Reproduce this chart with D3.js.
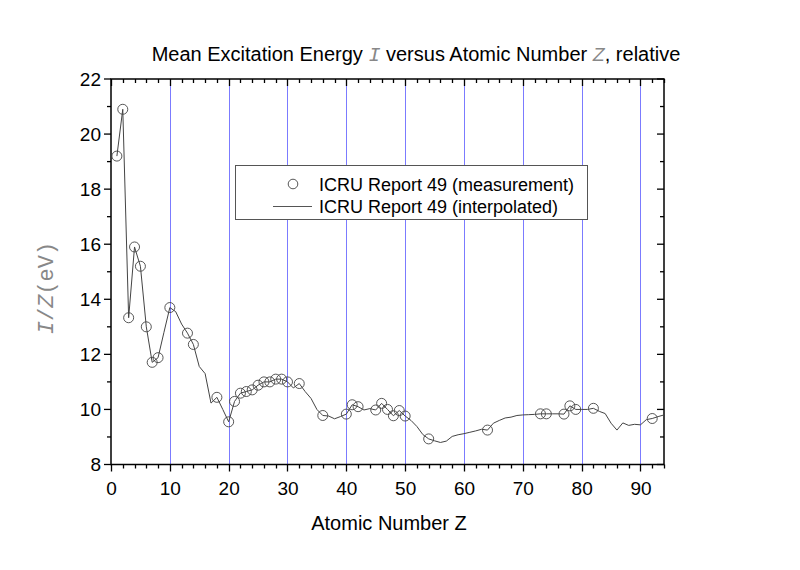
<!DOCTYPE html>
<html><head><meta charset="utf-8">
<script src="https://cdn.jsdelivr.net/npm/d3@7"></script>
<style>body{margin:0;background:#fff}</style>
</head><body><svg id="c" width="800" height="570"></svg>
<script>
// Measurement points (Z, I/Z in eV)
const measZ = [1,2,3,4,5,6,7,8,10,13,14,18,20,21,22,23,24,25,26,27,28,29,30,32,36,40,41,42,45,46,47,48,49,50,54,64,73,74,77,78,79,82,92];
const measV = [19.2,20.9,13.33,15.9,15.2,13.0,11.71,11.88,13.7,12.77,12.36,10.44,9.55,10.29,10.59,10.65,10.71,10.88,11.0,11.0,11.1,11.1,11.0,10.94,9.78,9.83,10.17,10.1,9.98,10.22,10.0,9.77,9.96,9.76,8.93,9.25,9.84,9.84,9.83,10.13,10.0,10.04,9.67];
// Interpolated curve (Z = 1..94)
const interpZ = d3.range(1, 95);
const interpV = [19.2,20.9,13.33,15.9,15.2,13.0,11.71,11.88,12.8,13.7,
 13.55,13.1,12.77,12.36,11.56,11.3,10.23,10.44,10.0,9.55,
 10.29,10.59,10.65,10.71,10.88,11.0,11.0,11.1,11.1,11.0,
 10.78,10.94,10.65,10.4,10.0,9.78,9.76,9.66,9.74,9.83,
 10.17,10.1,9.98,10.03,9.98,10.22,10.0,9.77,9.96,9.76,
 9.6,9.38,9.09,8.93,8.86,8.8,8.85,9.02,9.08,9.12,
 9.17,9.22,9.28,9.25,9.5,9.6,9.69,9.72,9.78,9.8,
 9.81,9.82,9.84,9.84,9.84,9.84,9.83,10.13,10.0,10.0,
 10.0,10.04,9.93,9.85,9.5,9.25,9.51,9.42,9.46,9.44,
 9.63,9.67,9.74,9.8];
const xTicks = [0,10,20,30,40,50,60,70,80,90];
const yTicks = [8,10,12,14,16,18,20,22];
const gridX = [10,20,30,40,50,60,70,80,90];

const svg = d3.select("#c");
const L = 111, R = 664, T = 79, B = 464.5;
const x = d3.scaleLinear().domain([0, 94]).range([L, R]);
const y = d3.scaleLinear().domain([8, 22]).range([B, T]);
const px = v => Math.round(v) + 0.5;
const font = "Arial, 'Liberation Sans', sans-serif";
const mono = "'Liberation Mono', 'Courier New', monospace";

// grid
svg.append("g").selectAll("line").data(gridX).join("line")
  .attr("x1", d => px(x(d))).attr("x2", d => px(x(d))).attr("y1", T).attr("y2", B)
  .attr("stroke", "#7b7bff").attr("stroke-width", 1);

// axes
const minorX = d3.range(0, 95, 2).filter(d => d % 10 !== 0);
const minorY = d3.range(9, 22, 2);
function ticks(g, scale, vals, len, orient, pos) {
  g.append("g").selectAll("line").data(vals).join("line")
    .attr("stroke", "#000").attr("stroke-width", 1.3)
    .each(function(d) {
      const s = d3.select(this);
      if (orient === "h") s.attr("x1", px(scale(d))).attr("x2", px(scale(d))).attr("y1", pos).attr("y2", pos + len);
      else s.attr("y1", scale(d)).attr("y2", scale(d)).attr("x1", pos).attr("x2", pos + len);
    });
}
const ax = svg.append("g");
ticks(ax, x, xTicks, 7, "h", B);
ticks(ax, x, minorX, 4, "h", B);
ticks(ax, x, xTicks, 7, "h", T);
ticks(ax, x, minorX, 4, "h", T);
ticks(ax, y, yTicks, -7, "v", L);
ticks(ax, y, minorY, -4, "v", L);
ticks(ax, y, yTicks, -7, "v", R);
ticks(ax, y, minorY, -4, "v", R);
ax.append("rect").attr("x", L).attr("y", T).attr("width", R - L).attr("height", B - T)
  .attr("fill", "none").attr("stroke", "#000").attr("stroke-width", 1.5);

// tick labels via d3 axes (lines hidden)
const xa = svg.append("g").attr("transform", `translate(0,${B})`)
  .call(d3.axisBottom(x).tickValues(xTicks).tickSize(0).tickPadding(17));
xa.select(".domain").remove();
xa.selectAll("line").remove();
xa.selectAll("text").attr("font-family", font).attr("font-size", 19).attr("fill", "#000");
const ya = svg.append("g").attr("transform", `translate(${L},0)`)
  .call(d3.axisLeft(y).tickValues(yTicks).tickSize(0).tickPadding(10));
ya.select(".domain").remove();
ya.selectAll("line").remove();
ya.selectAll("text").attr("font-family", font).attr("font-size", 19).attr("fill", "#000");

// interpolated line
const pts = interpZ.map((z, i) => [z, interpV[i]]);
svg.append("path").datum(pts)
  .attr("d", d3.line().x(d => x(d[0])).y(d => y(d[1])))
  .attr("fill", "none").attr("stroke", "#444").attr("stroke-width", 1);

// measurement points
const mp = measZ.map((z, i) => [z, measV[i]]);
svg.append("g").selectAll("circle").data(mp).join("circle")
  .attr("cx", d => x(d[0])).attr("cy", d => y(d[1])).attr("r", 5)
  .attr("fill", "none").attr("stroke", "#444").attr("stroke-width", 0.9);

// legend
svg.append("rect").attr("x", 235.5).attr("y", 165.5).attr("width", 352).attr("height", 54)
  .attr("fill", "#fff").attr("stroke", "#555").attr("stroke-width", 1);
svg.append("circle").attr("cx", 293).attr("cy", 184).attr("r", 4.8)
  .attr("fill", "none").attr("stroke", "#444").attr("stroke-width", 0.9);
svg.append("line").attr("x1", 273).attr("x2", 312).attr("y1", 206.5).attr("y2", 206.5)
  .attr("stroke", "#555").attr("stroke-width", 1);
svg.append("text").attr("x", 319).attr("y", 190.5).attr("font-family", font).attr("font-size", 18)
  .text("ICRU Report 49 (measurement)");
svg.append("text").attr("x", 319).attr("y", 212.5).attr("font-family", font).attr("font-size", 18)
  .text("ICRU Report 49 (interpolated)");

// title
const t = svg.append("text").attr("x", 416).attr("y", 61).attr("text-anchor", "middle")
  .attr("font-family", font).attr("font-size", 20);
t.append("tspan").text("Mean Excitation Energy ");
t.append("tspan").attr("font-family", mono).attr("font-style", "italic").attr("fill", "#888").text("I");
t.append("tspan").text(" versus Atomic Number ");
t.append("tspan").attr("font-family", mono).attr("font-style", "italic").attr("fill", "#888").text("Z");
t.append("tspan").text(", relative");

// axis titles
svg.append("text").attr("x", 389).attr("y", 530).attr("text-anchor", "middle")
  .attr("font-family", font).attr("font-size", 20).text("Atomic Number Z");
const yl = svg.append("text").attr("transform", "translate(53,288) rotate(-90)")
  .attr("text-anchor", "middle").attr("font-family", mono).attr("font-size", 22).attr("fill", "#888");
yl.append("tspan").attr("font-style", "italic").text("I");
yl.append("tspan").text("/");
yl.append("tspan").attr("font-style", "italic").text("Z");
yl.append("tspan").text("(eV)");
</script></body></html>
